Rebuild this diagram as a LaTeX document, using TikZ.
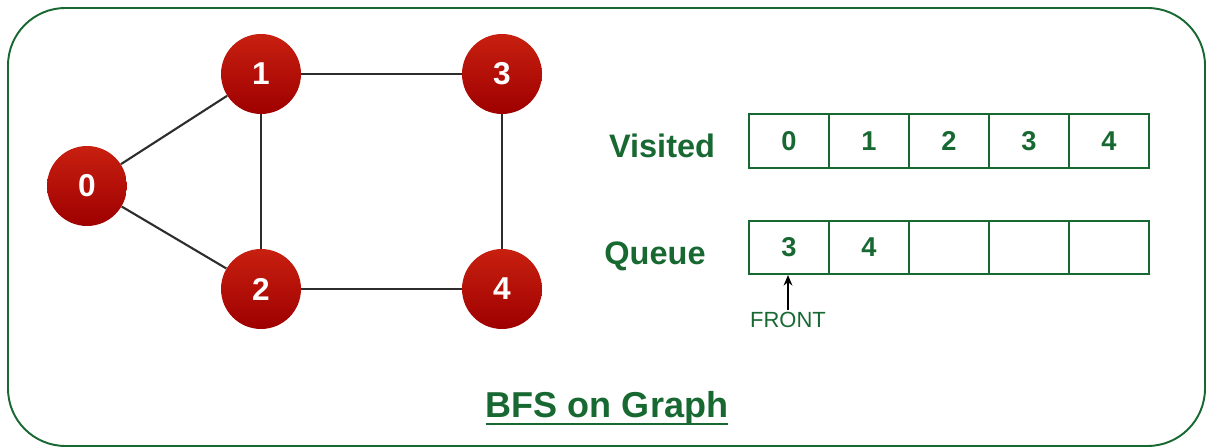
\documentclass[tikz,border=0pt]{standalone}
\usepackage{fontspec}
\setmainfont{Liberation Sans}
\usetikzlibrary{arrows.meta}
\definecolor{gfg}{RGB}{24,104,50}
\definecolor{redtop}{RGB}{200,32,16}
\definecolor{redbot}{RGB}{158,0,0}
\definecolor{edgegray}{RGB}{45,45,45}
\begin{document}
\begin{tikzpicture}[x=0.02cm,y=-0.02cm,
  vertex/.style={circle, minimum size=1.6cm, inner sep=0pt, top color=redtop, bottom color=redbot, draw=none, text=white, font=\fontsize{18}{20}\selectfont\bfseries},
  link/.style={draw=edgegray, line width=1.2pt},
  cell/.style={rectangle, draw=gfg, line width=0.9pt, minimum width=1.6cm, minimum height=1.07cm, inner sep=0pt, text=gfg, font=\fontsize{15.5}{17}\selectfont\bfseries},
  label/.style={text=gfg, font=\fontsize{18.5}{20}\selectfont\bfseries},
  frame/.style={draw=gfg, line width=1.1pt, rounded corners=1.15cm}
]
\useasboundingbox (0,0) rectangle (1207,448);
\draw[frame] (8,8) rectangle (1205,446);
% graph
\node[vertex] (n0) at (87,186) {0};
\node[vertex] (n1) at (261,74) {1};
\node[vertex] (n3) at (502,74) {3};
\node[vertex] (n2) at (261,289) {2};
\node[vertex] (n4) at (502,289) {4};
\draw[link] (n0) -- (n1);
\draw[link] (n0) -- (n2);
\draw[link] (n1) -- (n3);
\draw[link] (n1) -- (n2);
\draw[link] (n3) -- (n4);
\draw[link] (n2) -- (n4);
% visited
\node[label] (vis) at (662,146) {Visited};
\node[cell] (v0) at (789,141) {0};
\node[cell] (v1) at (869,141) {1};
\node[cell] (v2) at (949,141) {2};
\node[cell] (v3) at (1029,141) {3};
\node[cell] (v4) at (1109,141) {4};
% queue
\node[label] (que) at (655,256) {Queue};
\node[cell] (q0) at (789,247.5) {3};
\node[cell] (q1) at (869,247.5) {4};
\node[cell] (q2) at (949,247.5) {};
\node[cell] (q3) at (1029,247.5) {};
\node[cell] (q4) at (1109,247.5) {};
% front
\node[text=gfg, font=\fontsize{12.5}{14}\selectfont, inner sep=1pt] (front) at (788,320) {FRONT};
\draw[-{Stealth[length=6pt,width=5pt]}, line width=0.9pt, black] (front.north) -- (front.north |- q0.south);
% title
\node[text=gfg, font=\fontsize{20.5}{22}\selectfont\bfseries, inner sep=0pt, anchor=base] (title) at (607,418) {BFS on Graph};
\draw[gfg, line width=1.6pt] ([yshift=-0.12cm]title.base west) -- ([yshift=-0.12cm]title.base east);
\end{tikzpicture}
\end{document}
